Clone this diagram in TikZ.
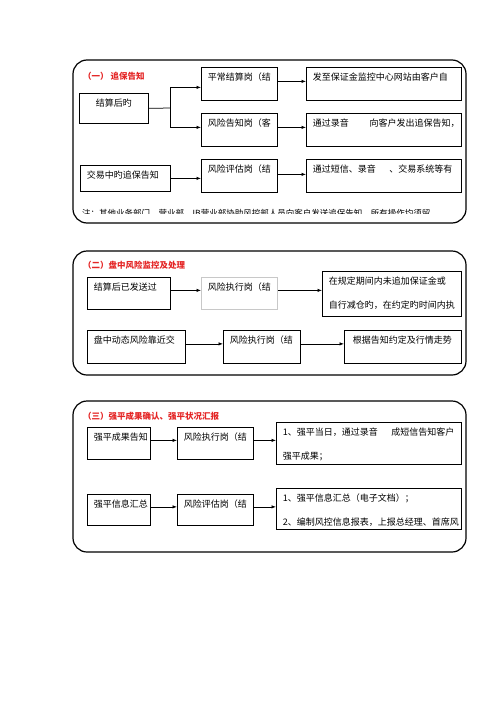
\documentclass[tikz,border=0pt]{standalone}
\usepackage{fontspec}
\setmainfont{Noto Sans CJK SC}
\usepackage{xcolor}
\usepackage{tikz}
\usetikzlibrary{arrows.meta}
\definecolor{titlered}{RGB}{228,38,38}
\definecolor{faintgray}{RGB}{200,200,200}

\begin{document}
\begin{tikzpicture}[x=1pt, y=-1pt, >={Latex[length=4.5pt,width=3.5pt]},
  frame/.style={draw, rounded corners=14pt, line width=1.2pt},
  box/.style={draw, anchor=north west, align=left, line width=0.75pt,
    inner xsep=6.5pt, inner ysep=6pt, text height=7pt,
    font=\fontsize{9}{24.5}\selectfont},
  head/.style={anchor=west, inner sep=0pt, text=titlered,
    font=\bfseries\fontsize{8.5}{8.5}\selectfont},
  arr/.style={->, line width=0.75pt}]
  \useasboundingbox (0,0) rectangle (500,707);

  % (一) margin calls
  \draw[frame] (73,60) rectangle (466,223);
  \node[head] (h1) at (83,76) {（一）\ 追保告知};
  \node[box, text width=56pt, text depth=11pt] (settle) at (79,93) {\hspace*{10pt}结算后旳};
  \node[box, text width=63pt, text depth=14pt] (normal) at (201,67) {平常结算岗（结};
  \node[box, text width=63pt, text depth=14pt] (notify) at (201,113) {风险告知岗（客};
  \node[box, text width=142pt, text depth=14pt] (site) at (306,67) {发至保证金监控中心网站由客户自};
  \node[box, text width=142pt, text depth=14pt] (voice) at (306,113) {通过录音\kern2.3em 向客户发出追保告知，};
  \node[box, text width=77pt, text depth=7pt] (intra) at (80,165) {交易中旳追保告知};
  \node[box, text width=63pt, text depth=14pt] (assess) at (201,159) {风险评估岗（结};
  \node[box, text width=142pt, text depth=14pt] (sms) at (306,159) {通过短信、录音\kern1.5em 、交易系统等有};
  \begin{scope}
    \clip (75,200) rectangle (464,213);
    \node[anchor=west, inner sep=0pt, font=\fontsize{8.5}{8.5}\selectfont] (note) at (82,213.5)
      {注：其他业务部门、营业部、IB营业部协助风控部人员向客户发送追保告知，所有操作均须留};
  \end{scope}

  \coordinate (fork) at (170,108);
  \draw[line width=0.75pt] (settle.east) -- (fork);
  \draw[arr] (fork) |- ([yshift=-3.5pt]normal.west);
  \draw[arr] (fork) |- ([yshift=2.5pt]notify.west);
  \draw[arr] ([yshift=2.5pt]normal.east) -- ([yshift=2.5pt]site.west);
  \draw[arr] ([yshift=2.5pt]notify.east) -- ([yshift=2.5pt]voice.west);
  \draw[arr] (intra.east) -- (intra.east -| assess.west);
  \draw[arr] ([yshift=1.5pt]assess.east) -- ([yshift=1.5pt]sms.west);

  % (二) intraday risk
  \draw[frame] (73,251) rectangle (466,375);
  \node[head] (h2) at (83,265) {（二）盘中风险监控及处理};
  \node[box, text width=70pt, text depth=13pt] (sent) at (87,277) {结算后已发送过};
  \node[box, draw=faintgray, text width=63pt, text depth=13pt] (exec1) at (201,277) {风险执行岗（结};
  \node[box, text width=126pt, text depth=26pt] (overdue) at (322,271)
    {在规定期间内未追加保证金或\\自行减仓旳，在约定旳时间内执};
  \node[box, text width=85pt, text depth=14pt] (dynamic) at (87,330) {盘中动态风险靠近交};
  \node[box, text width=64pt, text depth=14pt] (exec2) at (223,330) {风险执行岗（结};
  \node[box, text width=104pt, text depth=14pt] (trend) at (344,330) {\hspace*{2pt}根据告知约定及行情走势};

  \draw[arr] ([yshift=3pt]sent.east) -- ([yshift=3pt]sent.east -| exec1.west);
  \draw[arr] ([yshift=3pt]exec1.east) -- ([yshift=3pt]exec1.east -| overdue.west);
  \draw[arr] ([yshift=3pt]dynamic.east) -- ([yshift=3pt]exec2.west);
  \draw[arr] ([yshift=3pt]exec2.east) -- ([yshift=3pt]trend.west);

  % (三) forced liquidation
  \draw[frame] (73,401) rectangle (466,552);
  \node[head] (h3) at (83,416) {（三）强平成果确认、强平状况汇报};
  \node[box, text width=50pt, text depth=13pt] (result) at (87,427) {强平成果告知};
  \node[box, text width=63pt, text depth=13pt] (exec3) at (177,427) {风险执行岗（结};
  \node[box, text width=172pt, text depth=23pt] (day) at (276,422)
    {1、强平当日，通过录音\kern1.5em 成短信告知客户\\强平成果；};
  \node[box, text width=50pt, text depth=12pt] (info) at (87,494) {强平信息汇总};
  \node[box, text width=63pt, text depth=12pt] (assess3) at (177,494) {风险评估岗（结};
  \node[box, text width=172pt, text depth=22pt] (report) at (276,488)
    {1、强平信息汇总（电子文档）；\\2、编制风控信息报表，上报总经理、首席风};

  \draw[arr] ([yshift=3pt]result.east) -- ([yshift=3pt]exec3.west);
  \draw[arr] ([yshift=3pt]exec3.east) -- ([yshift=3pt]exec3.east -| day.west);
  \draw[arr] ([yshift=3pt]info.east) -- ([yshift=3pt]assess3.west);
  \draw[arr] ([yshift=3pt]assess3.east) -- ([yshift=3pt]assess3.east -| report.west);
\end{tikzpicture}
\end{document}
